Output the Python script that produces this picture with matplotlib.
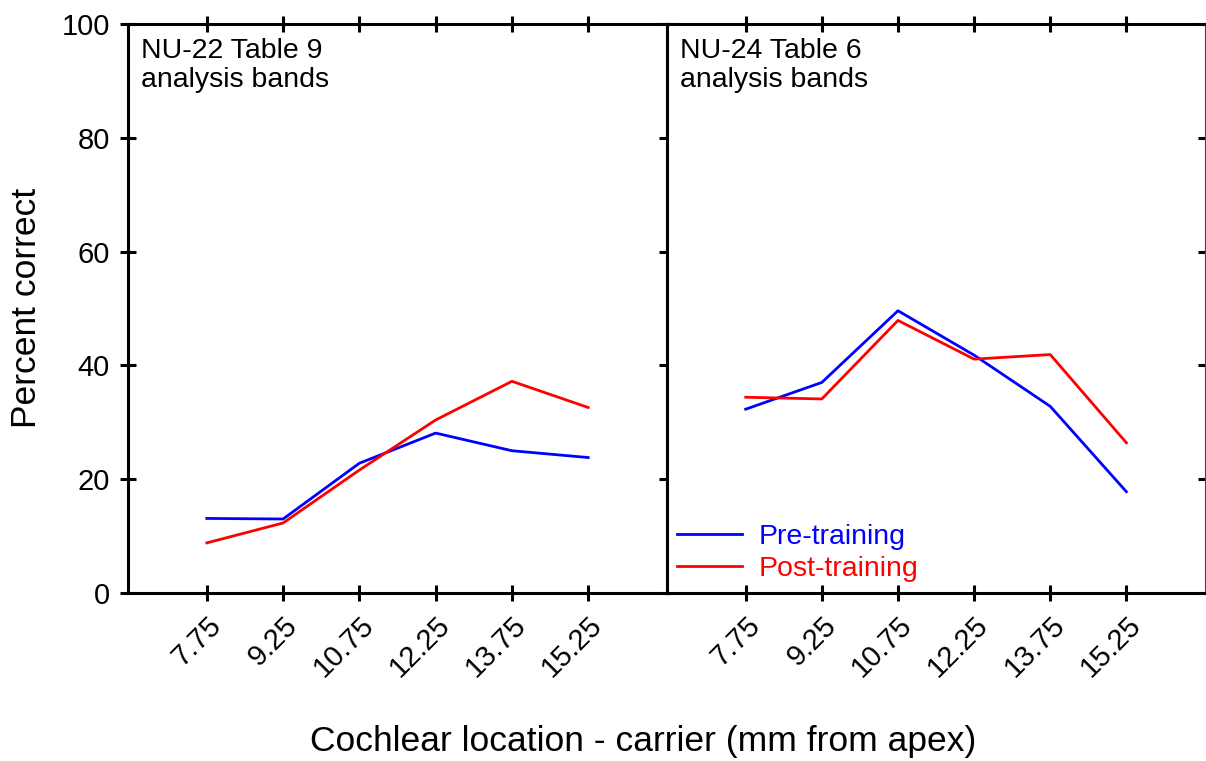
import matplotlib
matplotlib.use("Agg")
import matplotlib.pyplot as plt

plt.rcParams['font.family'] = ['Liberation Sans', 'DejaVu Sans']

# carrier locations (mm from apex)
locations = [7.75, 9.25, 10.75, 12.25, 13.75, 15.25]
tick_labels = ['7.75', '9.25', '10.75', '12.25', '13.75', '15.25']

# NU-22 Table 9 analysis bands
nu22_pre = [13.1, 13.0, 22.8, 28.1, 25.0, 23.8]
nu22_post = [8.8, 12.3, 21.6, 30.4, 37.2, 32.6]

# NU-24 Table 6 analysis bands
nu24_pre = [32.3, 37.0, 49.6, 41.8, 32.8, 17.8]
nu24_post = [34.4, 34.1, 47.9, 41.1, 41.9, 26.4]

panels = [
    ("NU-22 Table 9\nanalysis bands", nu22_pre, nu22_post),
    ("NU-24 Table 6\nanalysis bands", nu24_pre, nu24_post),
]

fig = plt.figure(figsize=(12.06, 7.61), dpi=100)
ax1 = fig.add_axes([0.1061, 0.2208, 0.4470, 0.7477])
ax2 = fig.add_axes([0.5531, 0.2208, 0.4461, 0.7477], sharey=ax1)
axes = [ax1, ax2]

for i, (ax, (title, pre, post)) in enumerate(zip(axes, panels)):
    ax.plot(locations, pre, color='#0000ff', lw=2.0, label='Pre-training')
    ax.plot(locations, post, color='#ff0000', lw=2.0, label='Post-training')
    ax.set_xlim(6.2, 16.8)
    ax.set_ylim(0, 100)
    ax.set_xticks(locations)
    ax.set_xticklabels(tick_labels, rotation=45, ha='right', va='top',
                       rotation_mode='anchor', fontsize=21)
    ax.set_yticks([0, 20, 40, 60, 80, 100])
    ax.text(0.025, 0.975, title, transform=ax.transAxes, ha='left', va='top',
            fontsize=20.5, linespacing=1.12)
    for side in ['left', 'top', 'bottom']:
        ax.spines[side].set_linewidth(2.2)
    ax.tick_params(axis='x', which='major', direction='inout', length=12,
                   width=2.2, top=True, bottom=True, pad=7)

ax1.spines['right'].set_linewidth(2.2)
ax1.tick_params(axis='y', direction='inout', length=12, width=2.2,
                left=True, right=True, labelsize=21, pad=7)

ax2.spines['right'].set_linewidth(0.8)
ax2.spines['right'].set_color('#444444')
ax2.tick_params(axis='y', direction='in', length=5, width=2.2,
                left=False, right=True, labelleft=False)

ax2.legend(loc='lower left', bbox_to_anchor=(-0.03, -0.025), frameon=False,
           fontsize=20.5, labelcolor='linecolor', handlelength=2.3,
           handletextpad=0.6, labelspacing=0.2)

fig.text(0.022, 0.595, 'Percent correct', rotation=90, ha='center',
         va='center', fontsize=25.5)
fig.text(0.533, 0.004, 'Cochlear location - carrier (mm from apex)',
         ha='center', va='bottom', fontsize=25.5)

fig.savefig('out.png', dpi=100)
